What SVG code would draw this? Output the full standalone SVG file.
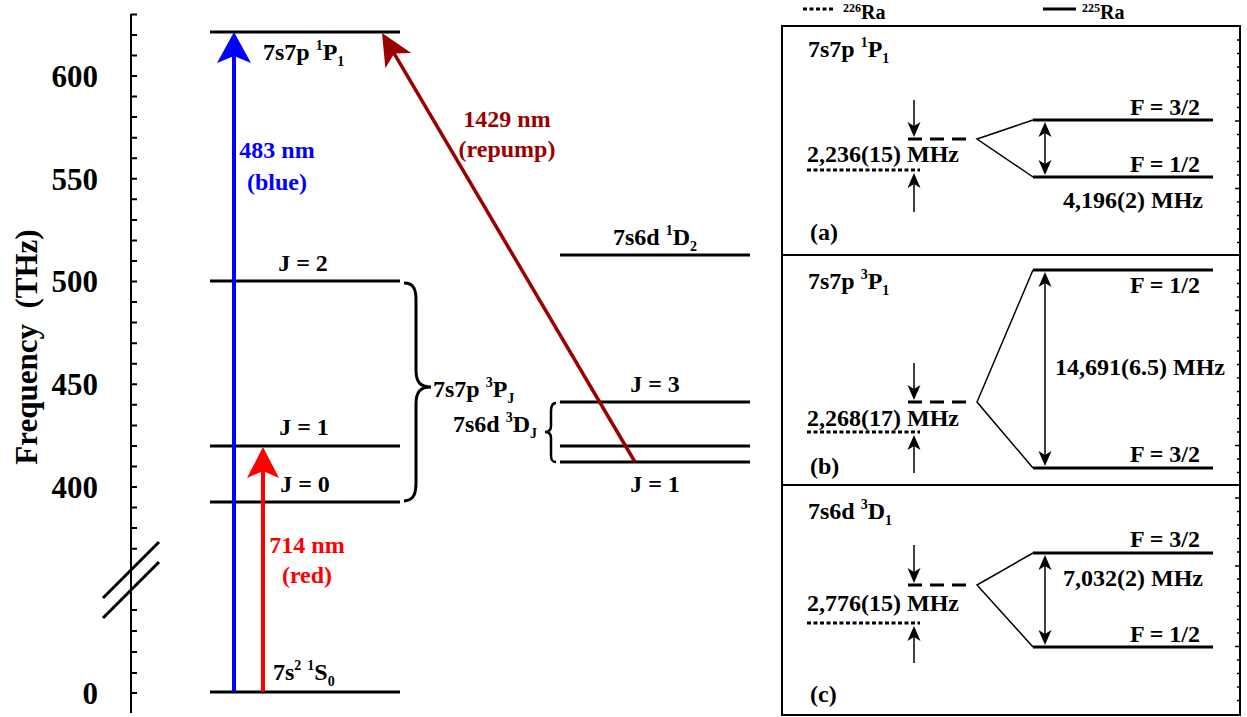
<svg xmlns="http://www.w3.org/2000/svg" width="1247" height="717" viewBox="0 0 1247 717">
<style>
text{font-family:"Liberation Serif","Times New Roman",serif;font-weight:bold;fill:#000;}
.t24{font-size:24px;}
.tick{font-size:31px;}
.sup{font-size:14px;}
.lvl{stroke:#000;stroke-width:3;fill:none;}
.thin{stroke:#000;stroke-width:1.5;fill:none;}
.dot{stroke:#000;stroke-width:3;stroke-dasharray:4,2.5;fill:none;}
.dash{stroke:#000;stroke-width:3;stroke-dasharray:14,8;fill:none;}
</style>
<defs>
<marker id="ahBlue" markerUnits="userSpaceOnUse" orient="auto" refX="0" refY="0" markerWidth="40" markerHeight="40" overflow="visible"><path d="M22,0 L-9,-17 L-2,0 L-9,17 Z" fill="#0000FF"/></marker>
<marker id="ahRed" markerUnits="userSpaceOnUse" orient="auto" refX="0" refY="0" markerWidth="40" markerHeight="40" overflow="visible"><path d="M22,0 L-9,-16 L-2,0 L-9,16 Z" fill="#FF0000"/></marker>
<marker id="ahWine" markerUnits="userSpaceOnUse" orient="auto" refX="0" refY="0" markerWidth="40" markerHeight="40" overflow="visible"><path d="M22,0 L-10,-15 L-2,0 L-10,15 Z" fill="#9B0000"/></marker>
<marker id="ahSmall" markerUnits="userSpaceOnUse" orient="auto-start-reverse" refX="0" refY="0" markerWidth="20" markerHeight="20" overflow="visible"><path d="M10,0 L-5,-6.5 L-1,0 L-5,6.5 Z" fill="#000"/></marker>
</defs>

<g id="axis">
<path d="M131,14 V713" stroke="#000" stroke-width="2" fill="none"/>
<path stroke="#000" stroke-width="2" fill="none" d="M131,14.4h6 M131,34.9h6 M131,55.5h6 M131,76h6 M131,96.6h6 M131,117.1h6 M131,137.7h6 M131,158.2h6 M131,178.8h6 M131,199.3h6 M131,219.9h6 M131,240.4h6 M131,261h6 M131,281.5h6 M131,302h6 M131,322.6h6 M131,343.2h6 M131,363.7h6 M131,384.3h6 M131,404.8h6 M131,425.4h6 M131,445.9h6 M131,466.5h6 M131,487h6 M131,507.6h6 M131,528.1h6 M131,548.7h6 M131,610h6 M131,631h6 M131,652h6 M131,673h6 M131,693h6"/>
<path d="M103,598 L159,542 M103,618 L159,562" stroke="#000" stroke-width="3" fill="none"/>
<text class="tick" x="98" y="87" text-anchor="end">600</text>
<text class="tick" x="98" y="190" text-anchor="end">550</text>
<text class="tick" x="98" y="292" text-anchor="end">500</text>
<text class="tick" x="98" y="395" text-anchor="end">450</text>
<text class="tick" x="98" y="498" text-anchor="end">400</text>
<text class="tick" x="98" y="704" text-anchor="end">0</text>
<text class="tick" transform="translate(37,347) rotate(-90)" text-anchor="middle" xml:space="preserve">Frequency  (THz)</text>
</g>

<g id="level-1S0">
<path class="lvl" d="M210,692 H400"/>
<text class="t24" x="273" y="680">7s<tspan class="sup" dy="-10">2</tspan><tspan dy="10"> </tspan><tspan class="sup" dy="-10">1</tspan><tspan dy="10">S</tspan><tspan class="sup" dy="6">0</tspan></text>
</g>
<g id="level-1P1">
<path class="lvl" d="M210,32 H400"/>
<text class="t24" x="263" y="60">7s7p <tspan class="sup" dy="-10">1</tspan><tspan dy="10">P</tspan><tspan class="sup" dy="6">1</tspan></text>
</g>
<g id="level-3P2">
<path class="lvl" d="M210,281 H400"/>
<text class="t24" x="303" y="271" text-anchor="middle">J = 2</text>
</g>
<g id="level-3P1">
<path class="lvl" d="M210,446 H400"/>
<text class="t24" x="304" y="435" text-anchor="middle">J = 1</text>
</g>
<g id="level-3P0">
<path class="lvl" d="M210,502 H400"/>
<text class="t24" x="305" y="492" text-anchor="middle">J = 0</text>
</g>
<g id="brace-3PJ">
<path d="M404,283 C414,283 416,290 416,300 L416,370 C416,382 420,387 431,387 C420,387 416,392 416,404 L416,482 C416,494 414,500 404,501" stroke="#000" stroke-width="3" fill="none"/>
<text class="t24" x="433" y="397">7s7p <tspan class="sup" dy="-10">3</tspan><tspan dy="10">P</tspan><tspan class="sup" dy="6">J</tspan></text>
</g>
<g id="level-1D2">
<path class="lvl" d="M560,255 H750"/>
<text class="t24" x="613" y="245">7s6d <tspan class="sup" dy="-10">1</tspan><tspan dy="10">D</tspan><tspan class="sup" dy="6">2</tspan></text>
</g>
<g id="level-3D3">
<path class="lvl" d="M560,402 H750"/>
<text class="t24" x="655" y="392" text-anchor="middle">J = 3</text>
</g>
<g id="level-3D2">
<path class="lvl" d="M560,446 H750"/>
</g>
<g id="level-3D1">
<path class="lvl" d="M560,462 H750"/>
<text class="t24" x="655" y="492" text-anchor="middle">J = 1</text>
</g>
<g id="brace-3DJ">
<path d="M556,403 C552,403 551,406 551,411 L551,426 C551,430 549,432 545,432 C549,432 551,434 551,438 L551,455 C551,460 552,462 556,462" stroke="#000" stroke-width="2.5" fill="none"/>
<text class="t24" x="453" y="432">7s6d <tspan class="sup" dy="-10">3</tspan><tspan dy="10">D</tspan><tspan class="sup" dy="6">J</tspan></text>
</g>

<g id="connectors">
<path d="M234,692 V54" stroke="#0000FF" stroke-width="4" fill="none" marker-end="url(#ahBlue)"/>
<path d="M263,692 V469" stroke="#FF0000" stroke-width="4" fill="none" marker-end="url(#ahRed)"/>
<path d="M635,462 L393.2,51.9" stroke="#9B0000" stroke-width="3.5" fill="none" marker-end="url(#ahWine)"/>
<text class="t24" x="277" y="158" text-anchor="middle" style="fill:#0000FF">483 nm</text>
<text class="t24" x="277" y="190" text-anchor="middle" style="fill:#0000FF">(blue)</text>
<text class="t24" x="307" y="553" text-anchor="middle" style="fill:#FF0000">714 nm</text>
<text class="t24" x="307" y="583" text-anchor="middle" style="fill:#FF0000">(red)</text>
<text class="t24" x="507" y="127" text-anchor="middle" style="fill:#9B0000">1429 nm</text>
<text class="t24" x="507" y="157" text-anchor="middle" style="fill:#9B0000">(repump)</text>
</g>

<g id="legend">
<path class="dot" d="M803,9 H833"/>
<text x="843" y="19" style="font-size:20px"><tspan style="font-size:12px" dy="-7">226</tspan><tspan dy="7">Ra</tspan></text>
<path class="lvl" d="M1043,9 H1076"/>
<text x="1082" y="19" style="font-size:20px"><tspan style="font-size:12px" dy="-7">225</tspan><tspan dy="7">Ra</tspan></text>
</g>

<g id="panel-frame">
<rect x="782" y="26" width="458" height="689" fill="none" stroke="#000" stroke-width="2"/>
<path d="M782,255 H1240 M782,485 H1240" stroke="#000" stroke-width="2" fill="none"/>
<path stroke="#000" stroke-width="1.5" fill="none" d="M1240,40h-3 M1240,53.5h-3 M1240,67h-3 M1240,80.5h-3 M1240,94h-3 M1240,107.5h-3 M1240,121h-5 M1240,134.5h-3 M1240,148h-3 M1240,161.5h-3 M1240,175h-3 M1240,188.5h-5 M1240,202h-3 M1240,215.5h-3 M1240,229h-3 M1240,242.5h-3 M1240,270h-3 M1240,283.5h-3 M1240,297h-3 M1240,310.5h-5 M1240,324h-3 M1240,337.5h-3 M1240,351h-3 M1240,364.5h-3 M1240,378h-3 M1240,391.5h-3 M1240,405h-3 M1240,418.5h-3 M1240,432h-3 M1240,445.5h-5 M1240,459h-3 M1240,472.5h-3 M1240,498h-5 M1240,511.5h-3 M1240,525h-3 M1240,538.5h-3 M1240,552h-3 M1240,566h-5 M1240,579h-3 M1240,592.5h-3 M1240,606h-3 M1240,619.5h-3 M1240,633h-3 M1240,646.5h-5 M1240,660h-3 M1240,673.5h-3 M1240,687h-3 M1240,700.5h-3"/>
</g>

<g id="panel-a">
<text class="t24" x="808" y="57">7s7p <tspan class="sup" dy="-10">1</tspan><tspan dy="10">P</tspan><tspan class="sup" dy="6">1</tspan></text>
<path class="dash" d="M908,139 H966"/>
<path class="dot" d="M807,170 H920"/>
<path class="thin" d="M914,100 V127" marker-end="url(#ahSmall)"/>
<path class="thin" d="M914,212 V183" marker-end="url(#ahSmall)"/>
<text class="t24" x="807" y="162">2,236(15) MHz</text>
<path class="thin" d="M1033,120 L977,139 L1033,177"/>
<path class="lvl" d="M1033,120 H1213 M1033,177 H1213"/>
<path class="thin" d="M1045,132 V165" marker-start="url(#ahSmall)" marker-end="url(#ahSmall)"/>
<text class="t24" x="1200" y="115" text-anchor="end">F = 3/2</text>
<text class="t24" x="1200" y="172" text-anchor="end">F = 1/2</text>
<text class="t24" x="1203" y="208" text-anchor="end">4,196(2) MHz</text>
<text class="t24" x="810" y="240">(a)</text>
</g>

<g id="panel-b">
<text class="t24" x="808" y="289">7s7p <tspan class="sup" dy="-10">3</tspan><tspan dy="10">P</tspan><tspan class="sup" dy="6">1</tspan></text>
<path class="dash" d="M908,402 H966"/>
<path class="dot" d="M807,432 H920"/>
<path class="thin" d="M914,363 V390" marker-end="url(#ahSmall)"/>
<path class="thin" d="M914,473 V445" marker-end="url(#ahSmall)"/>
<text class="t24" x="807" y="426">2,268(17) MHz</text>
<path class="thin" d="M1033,270 L977,402 L1033,468"/>
<path class="lvl" d="M1033,270 H1213 M1033,468 H1213"/>
<path class="thin" d="M1045,282 V456" marker-start="url(#ahSmall)" marker-end="url(#ahSmall)"/>
<text class="t24" x="1200" y="293" text-anchor="end">F = 1/2</text>
<text class="t24" x="1200" y="462" text-anchor="end">F = 3/2</text>
<text class="t24" x="1225" y="375" text-anchor="end">14,691(6.5) MHz</text>
<text class="t24" x="810" y="474">(b)</text>
</g>

<g id="panel-c">
<text class="t24" x="808" y="519">7s6d <tspan class="sup" dy="-10">3</tspan><tspan dy="10">D</tspan><tspan class="sup" dy="6">1</tspan></text>
<path class="dash" d="M908,585 H966"/>
<path class="dot" d="M807,623 H920"/>
<path class="thin" d="M914,545 V573" marker-end="url(#ahSmall)"/>
<path class="thin" d="M914,663 V636" marker-end="url(#ahSmall)"/>
<text class="t24" x="807" y="611">2,776(15) MHz</text>
<path class="thin" d="M1033,553 L977,585 L1033,647"/>
<path class="lvl" d="M1033,553 H1213 M1033,647 H1213"/>
<path class="thin" d="M1045,565 V635" marker-start="url(#ahSmall)" marker-end="url(#ahSmall)"/>
<text class="t24" x="1200" y="547" text-anchor="end">F = 3/2</text>
<text class="t24" x="1200" y="642" text-anchor="end">F = 1/2</text>
<text class="t24" x="1203" y="586" text-anchor="end">7,032(2) MHz</text>
<text class="t24" x="810" y="702">(c)</text>
</g>
</svg>
